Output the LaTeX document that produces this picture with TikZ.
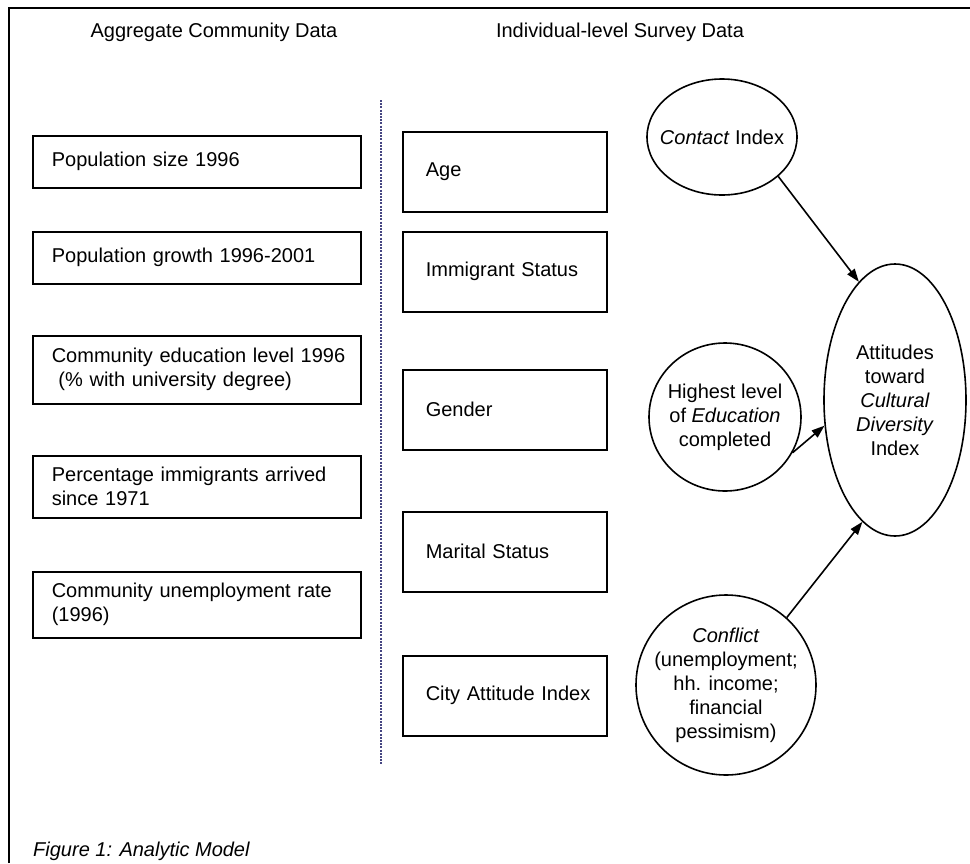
\documentclass[tikz,border=0pt]{standalone}
\usepackage{fontspec}
\setmainfont{Liberation Sans}
\usetikzlibrary{shapes.geometric,arrows.meta}
\tikzset{
  every node/.style={font=\fontsize{20}{24}\selectfont},
  lbox/.style={draw, line width=1.6pt, inner xsep=19pt, inner ysep=0pt,
    text width=290pt, align=left, anchor=north west, minimum height=#1},
  mbox/.style={draw, line width=1.6pt, inner xsep=23pt, inner ysep=0pt,
    text width=158pt, align=left, anchor=north west, minimum height=80pt},
  ell/.style={draw, ellipse, line width=1.6pt, inner sep=-14pt, align=center},
  arr/.style={line width=1.6pt, -{Triangle[length=13pt,width=9pt]}},
  frame/.style={line width=1.8pt},
  divider/.style={line width=1.6pt, color={rgb,255:red,70;green,70;blue,130},
    dash pattern=on 2pt off 1.2pt}
}
\begin{document}
\begin{tikzpicture}[x=1pt,y=-1pt]
\useasboundingbox (0,0) rectangle (970,863);
% frame
\coordinate (fbl) at (9,863);
\coordinate (ftl) at (9,8);
\coordinate (ftr) at (970,8);
\draw[frame] (fbl) -- (ftl) -- (ftr);
% headers
\node (hdrA) at (214,32) {Aggregate Community Data};
\node (hdrB) at (620,32) {Individual-level Survey Data};
% divider
\coordinate (dtop) at (381,100);
\coordinate (dbot) at (381,765);
\draw[divider] (dtop) -- (dbot);
% left boxes
\node[lbox=52pt] (pop) at (32,135) {\mbox{Population size 1996}};
\node[lbox=52pt] (growth) at (32,231) {\mbox{Population growth 1996-2001}};
\node[lbox=68pt] (cedu) at (32,335) {\mbox{Community education level 1996}\\\mbox{\ (\% with university degree)}};
\node[lbox=62pt] (pimm) at (32,455) {\mbox{Percentage immigrants arrived}\\\mbox{since 1971}};
\node[lbox=66pt] (unemp) at (32,571) {\mbox{Community unemployment rate}\\\mbox{(1996)}};
% middle boxes
\node[mbox] (age) at (402,131) {\mbox{Age}};
\node[mbox] (imm) at (402,231) {\mbox{Immigrant Status}};
\node[mbox] (gender) at (402,369) {\mbox{Gender}};
\node[mbox] (marital) at (402,511) {\mbox{Marital Status}};
\node[mbox] (city) at (402,655) {\mbox{City Attitude Index}};
% ellipses
\node[ell, minimum width=150pt, minimum height=116pt] (contact) at (722,137) {\textit{Contact} Index};
\node[ell, minimum width=142pt, minimum height=272pt] (att) at (895,400) {Attitudes\\toward\\\textit{Cultural}\\\textit{Diversity}\\Index};
\node[ell, minimum width=152pt, minimum height=148pt] (edu) at (725,417) {Highest level\\of \textit{Education}\\completed};
\node[ell, minimum width=180pt, minimum height=180pt] (conf) at (726,685) {\textit{Conflict}\\(unemployment;\\hh. income;\\financial\\pessimism)};
% arrows
\draw[arr] (contact.-35) -- (att.107);
\draw[arr] (edu.-28) -- (att.200);
\draw[arr] (conf.48) -- (att.255);
% caption
\node[anchor=west, inner sep=0pt] (cap) at (33,851) {\itshape Figure 1: Analytic Model};
\end{tikzpicture}
\end{document}
